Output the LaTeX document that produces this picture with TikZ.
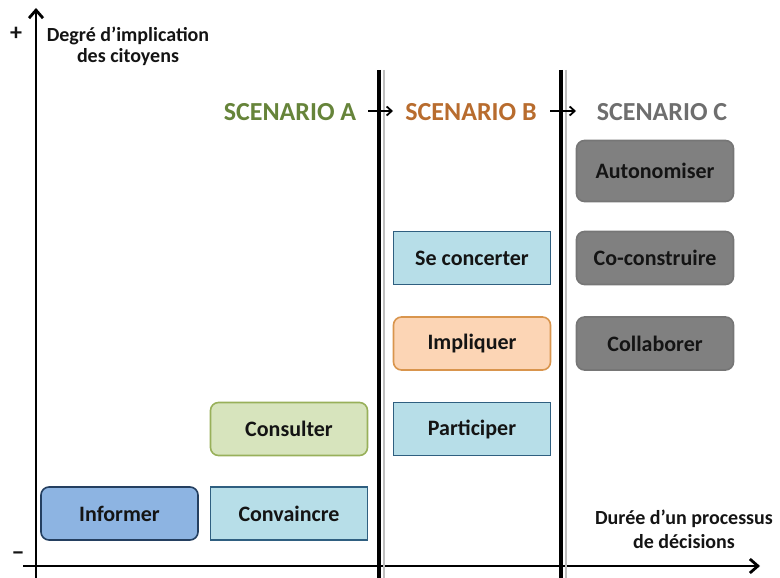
\documentclass[tikz,border=0pt]{standalone}
\usepackage{fontspec}
\setmainfont{Carlito}
\usetikzlibrary{arrows.meta}
\definecolor{lbfill}{HTML}{B7DEE8}
\definecolor{lbdraw}{HTML}{2F5F80}
\definecolor{infill}{HTML}{8DB4E2}
\definecolor{indraw}{HTML}{243F60}
\definecolor{cofill}{HTML}{D7E4BD}
\definecolor{codraw}{HTML}{98B05A}
\definecolor{imfill}{HTML}{FCD5B5}
\definecolor{imdraw}{HTML}{D9954D}
\definecolor{grfill}{HTML}{808080}
\definecolor{scA}{HTML}{66843A}
\definecolor{scB}{HTML}{B86C2E}
\definecolor{scC}{HTML}{6E6E6E}
\definecolor{txt}{HTML}{141414}
\tikzset{
  box/.style={minimum width=157pt, minimum height=53pt, inner sep=0pt, line width=1.6pt, text=txt, font=\bfseries\fontsize{22}{26}\selectfont},
  lbox/.style={box, fill=lbfill, draw=lbdraw},
  rbox/.style={box, rounded corners=8pt},
  gbox/.style={rbox, fill=grfill, draw=grfill!92!black},
  axis/.style={line width=2.8pt, -{Straight Barb[length=8pt,width=14pt,line width=2.8pt]}},
  sep/.style={line width=4pt, black},
  sepshadow/.style={line width=2.5pt, black!25},
  scen/.style={font=\bfseries\fontsize{26}{30}\selectfont},
  smallarrow/.style={line width=1.8pt, -{Straight Barb[length=5pt,width=9pt,line width=1.8pt]}},
  lab/.style={font=\bfseries\fontsize{20}{21}\selectfont, text=txt, align=center},
  pm/.style={font=\bfseries\fontsize{24}{24}\selectfont, text=txt},
}
\begin{document}
\begin{tikzpicture}[x=1pt,y=-1pt]
\useasboundingbox (0,0) rectangle (780,578);
% axes
\coordinate (yb) at (36,578);
\coordinate (yt) at (36,8);
\coordinate (xl) at (23,566);
\coordinate (xr) at (760,566);
\draw[axis] (yb) -- (yt);
\draw[axis] (xl) -- (xr);
% separators
\coordinate (s1t) at (379,70);
\coordinate (s1b) at (379,578);
\coordinate (s2t) at (561,70);
\coordinate (s2b) at (561,578);
\draw[sepshadow] ([xshift=5pt]s1t) -- ([xshift=5pt]s1b);
\draw[sepshadow] ([xshift=5pt]s2t) -- ([xshift=5pt]s2b);
\draw[sep] (s1t) -- (s1b);
\draw[sep] (s2t) -- (s2b);
% axis labels
\node[pm] (plus) at (16,34) {+};
\node[pm] (minus) at (18,556) {\char"2212};
\node[lab] (ylab) at (128,46) {Degré d’implication\\des citoyens};
\node[lab, font=\bfseries\fontsize{20}{24}\selectfont] (xlab) at (684,529) {Durée d’un processus\\de décisions};
% scenarios
\node[scen, text=scA] (scA) at (290,112) {SCENARIO A};
\node[scen, text=scB] (scB) at (471,112) {SCENARIO B};
\node[scen, text=scC] (scC) at (662,112) {SCENARIO C};
\coordinate (a1) at (368,111);
\coordinate (a2) at (393,111);
\coordinate (b1) at (550,111);
\coordinate (b2) at (576,111);
\draw[smallarrow] (a1) -- (a2);
\draw[smallarrow] (b1) -- (b2);
% boxes
\node[rbox, fill=infill, draw=indraw] (informer) at (119.5,513.5) {Informer};
\node[lbox] (convaincre) at (289,513.5) {Convaincre};
\node[rbox, fill=cofill, draw=codraw] (consulter) at (289,429) {Consulter};
\node[lbox] (participer) at (472,429) {Participer};
\node[rbox, fill=imfill, draw=imdraw] (impliquer) at (472,343.5) {Impliquer};
\node[lbox] (seconcerter) at (472,258) {Se concerter};
\node[gbox] (collaborer) at (655,343.5) {Collaborer};
\node[gbox] (coconstruire) at (655,258) {Co-construire};
\node[gbox, minimum height=61pt] (autonomiser) at (655,171) {Autonomiser};
\end{tikzpicture}
\end{document}
